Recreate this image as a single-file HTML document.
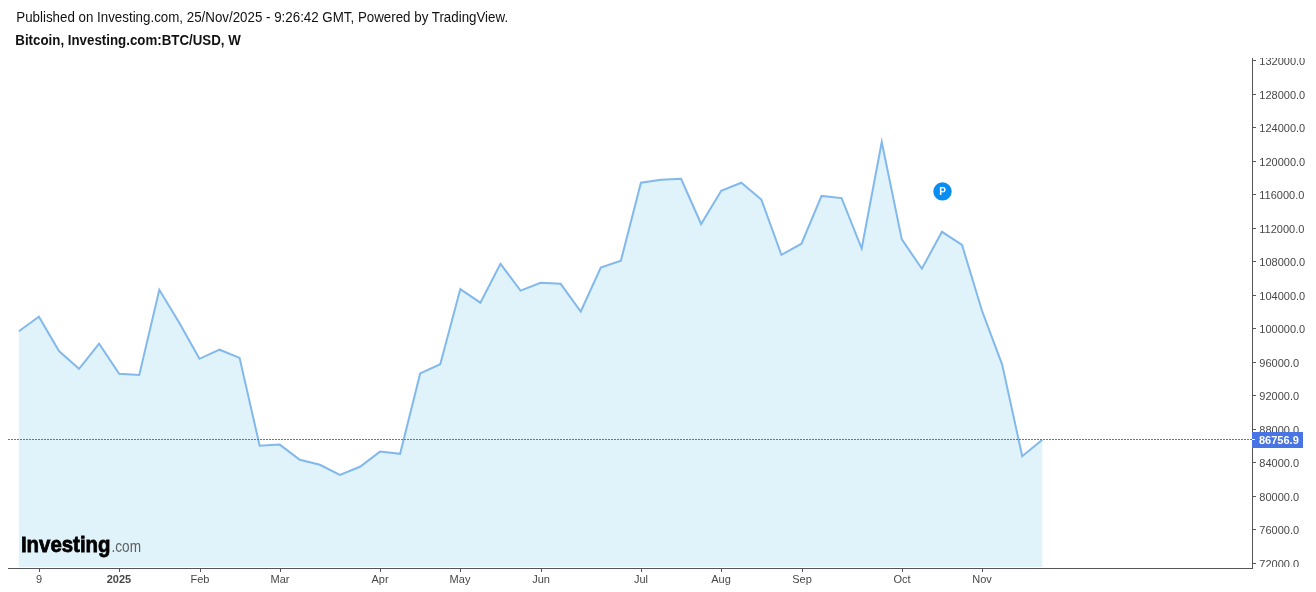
<!DOCTYPE html>
<html><head><meta charset="utf-8"><style>
html,body{margin:0;padding:0;background:#fff;width:1316px;height:592px;overflow:hidden}
svg{display:block;will-change:transform;font-family:"Liberation Sans",sans-serif}
</style></head><body>
<svg width="1316" height="592" viewBox="0 0 1316 592">
<rect width="1316" height="592" fill="#ffffff"/>
<text x="16.3" y="22" font-size="14" fill="#111" textLength="491.8" lengthAdjust="spacingAndGlyphs">Published on Investing.com, 25/Nov/2025 - 9:26:42 GMT, Powered by TradingView.</text>
<text x="15.3" y="45" font-size="14" font-weight="bold" fill="#111" textLength="225.5" lengthAdjust="spacingAndGlyphs">Bitcoin, Investing.com:BTC/USD, W</text>
<polygon points="18.84,331.20 38.91,316.80 58.98,351.10 79.04,368.80 99.11,343.70 119.18,373.80 139.25,375.00 159.31,289.80 179.38,323.10 199.45,358.80 219.52,349.70 239.58,357.90 259.65,445.70 279.72,444.60 299.79,459.80 319.85,464.80 339.92,474.90 359.99,466.80 380.06,451.60 400.12,453.80 420.19,373.40 440.26,364.20 460.33,289.10 480.39,302.70 500.46,263.80 520.53,290.60 540.60,282.70 560.67,283.80 580.73,311.50 600.80,267.60 620.87,260.70 640.94,182.70 661.00,179.70 681.07,178.80 701.14,224.00 721.21,190.70 741.27,182.70 761.34,199.60 781.41,254.80 801.48,243.70 821.54,195.90 841.61,198.10 861.68,248.50 881.75,142.00 901.81,239.40 921.88,268.70 941.95,231.80 962.02,245.00 982.08,311.00 1002.15,364.60 1022.22,456.20 1042.29,439.80 1042.29,567 18.84,567" fill="#e0f2fa"/>
<text x="20.9" y="551.8" font-weight="bold" font-size="22.4" fill="#000" stroke="#000" stroke-width="0.8" textLength="89.6" lengthAdjust="spacingAndGlyphs">Investing</text>
<text x="111.5" y="552" font-size="16.5" fill="#5f5f5f" textLength="29.5" lengthAdjust="spacingAndGlyphs">.com</text>
<polyline points="18.84,331.20 38.91,316.80 58.98,351.10 79.04,368.80 99.11,343.70 119.18,373.80 139.25,375.00 159.31,289.80 179.38,323.10 199.45,358.80 219.52,349.70 239.58,357.90 259.65,445.70 279.72,444.60 299.79,459.80 319.85,464.80 339.92,474.90 359.99,466.80 380.06,451.60 400.12,453.80 420.19,373.40 440.26,364.20 460.33,289.10 480.39,302.70 500.46,263.80 520.53,290.60 540.60,282.70 560.67,283.80 580.73,311.50 600.80,267.60 620.87,260.70 640.94,182.70 661.00,179.70 681.07,178.80 701.14,224.00 721.21,190.70 741.27,182.70 761.34,199.60 781.41,254.80 801.48,243.70 821.54,195.90 841.61,198.10 861.68,248.50 881.75,142.00 901.81,239.40 921.88,268.70 941.95,231.80 962.02,245.00 982.08,311.00 1002.15,364.60 1022.22,456.20 1042.29,439.80" fill="none" stroke="#82b9ec" stroke-width="2" stroke-linejoin="miter" stroke-miterlimit="10"/>
<line x1="8" y1="439.5" x2="1252" y2="439.5" stroke="#4874e4" stroke-width="1" stroke-dasharray="2,1"/>
<circle cx="942.5" cy="191.4" r="9.2" fill="#088ef3"/>
<text x="942.7" y="194.7" font-size="10" font-weight="bold" fill="#fff" text-anchor="middle">P</text>
<rect x="8" y="568" width="1245" height="1" fill="#555555"/>
<rect x="1252" y="58" width="1" height="511" fill="#555555"/>
<rect x="1253" y="60" width="3" height="1" fill="#555555"/><rect x="1253" y="94" width="3" height="1" fill="#555555"/><rect x="1253" y="127" width="3" height="1" fill="#555555"/><rect x="1253" y="161" width="3" height="1" fill="#555555"/><rect x="1253" y="194" width="3" height="1" fill="#555555"/><rect x="1253" y="228" width="3" height="1" fill="#555555"/><rect x="1253" y="261" width="3" height="1" fill="#555555"/><rect x="1253" y="295" width="3" height="1" fill="#555555"/><rect x="1253" y="328" width="3" height="1" fill="#555555"/><rect x="1253" y="362" width="3" height="1" fill="#555555"/><rect x="1253" y="395" width="3" height="1" fill="#555555"/><rect x="1253" y="429" width="3" height="1" fill="#555555"/><rect x="1253" y="462" width="3" height="1" fill="#555555"/><rect x="1253" y="496" width="3" height="1" fill="#555555"/><rect x="1253" y="529" width="3" height="1" fill="#555555"/><rect x="1253" y="563" width="3" height="1" fill="#555555"/>
<svg x="1253" y="58" width="63" height="509" viewBox="1253 58 63 509" overflow="hidden">
<g font-size="11" fill="#474747"><text x="1259.3" y="65">132000.0</text><text x="1259.3" y="99">128000.0</text><text x="1259.3" y="132">124000.0</text><text x="1259.3" y="166">120000.0</text><text x="1259.3" y="199">116000.0</text><text x="1259.3" y="233">112000.0</text><text x="1259.3" y="266">108000.0</text><text x="1259.3" y="300">104000.0</text><text x="1259.3" y="333">100000.0</text><text x="1259.3" y="367">96000.0</text><text x="1259.3" y="400">92000.0</text><text x="1259.3" y="434">88000.0</text><text x="1259.3" y="467">84000.0</text><text x="1259.3" y="501">80000.0</text><text x="1259.3" y="534">76000.0</text><text x="1259.3" y="568">72000.0</text></g>
</svg>
<rect x="1252" y="432" width="51" height="16" fill="#4874e4"/>
<rect x="1252" y="439" width="3" height="1" fill="#ffffff"/>
<text x="1259" y="443.8" font-size="11" font-weight="bold" fill="#ffffff">86756.9</text>
<rect x="39" y="569" width="1" height="3" fill="#555555"/><rect x="119" y="569" width="1" height="3" fill="#555555"/><rect x="200" y="569" width="1" height="3" fill="#555555"/><rect x="280" y="569" width="1" height="3" fill="#555555"/><rect x="380" y="569" width="1" height="3" fill="#555555"/><rect x="460" y="569" width="1" height="3" fill="#555555"/><rect x="541" y="569" width="1" height="3" fill="#555555"/><rect x="641" y="569" width="1" height="3" fill="#555555"/><rect x="721" y="569" width="1" height="3" fill="#555555"/><rect x="802" y="569" width="1" height="3" fill="#555555"/><rect x="902" y="569" width="1" height="3" fill="#555555"/><rect x="982" y="569" width="1" height="3" fill="#555555"/>
<g font-size="11" fill="#474747" text-anchor="middle"><text x="39" y="583">9</text><text x="119" y="583" font-weight="bold">2025</text><text x="200" y="583">Feb</text><text x="280" y="583">Mar</text><text x="380" y="583">Apr</text><text x="460" y="583">May</text><text x="541" y="583">Jun</text><text x="641" y="583">Jul</text><text x="721" y="583">Aug</text><text x="802" y="583">Sep</text><text x="902" y="583">Oct</text><text x="982" y="583">Nov</text></g>
</svg>
</body></html>
